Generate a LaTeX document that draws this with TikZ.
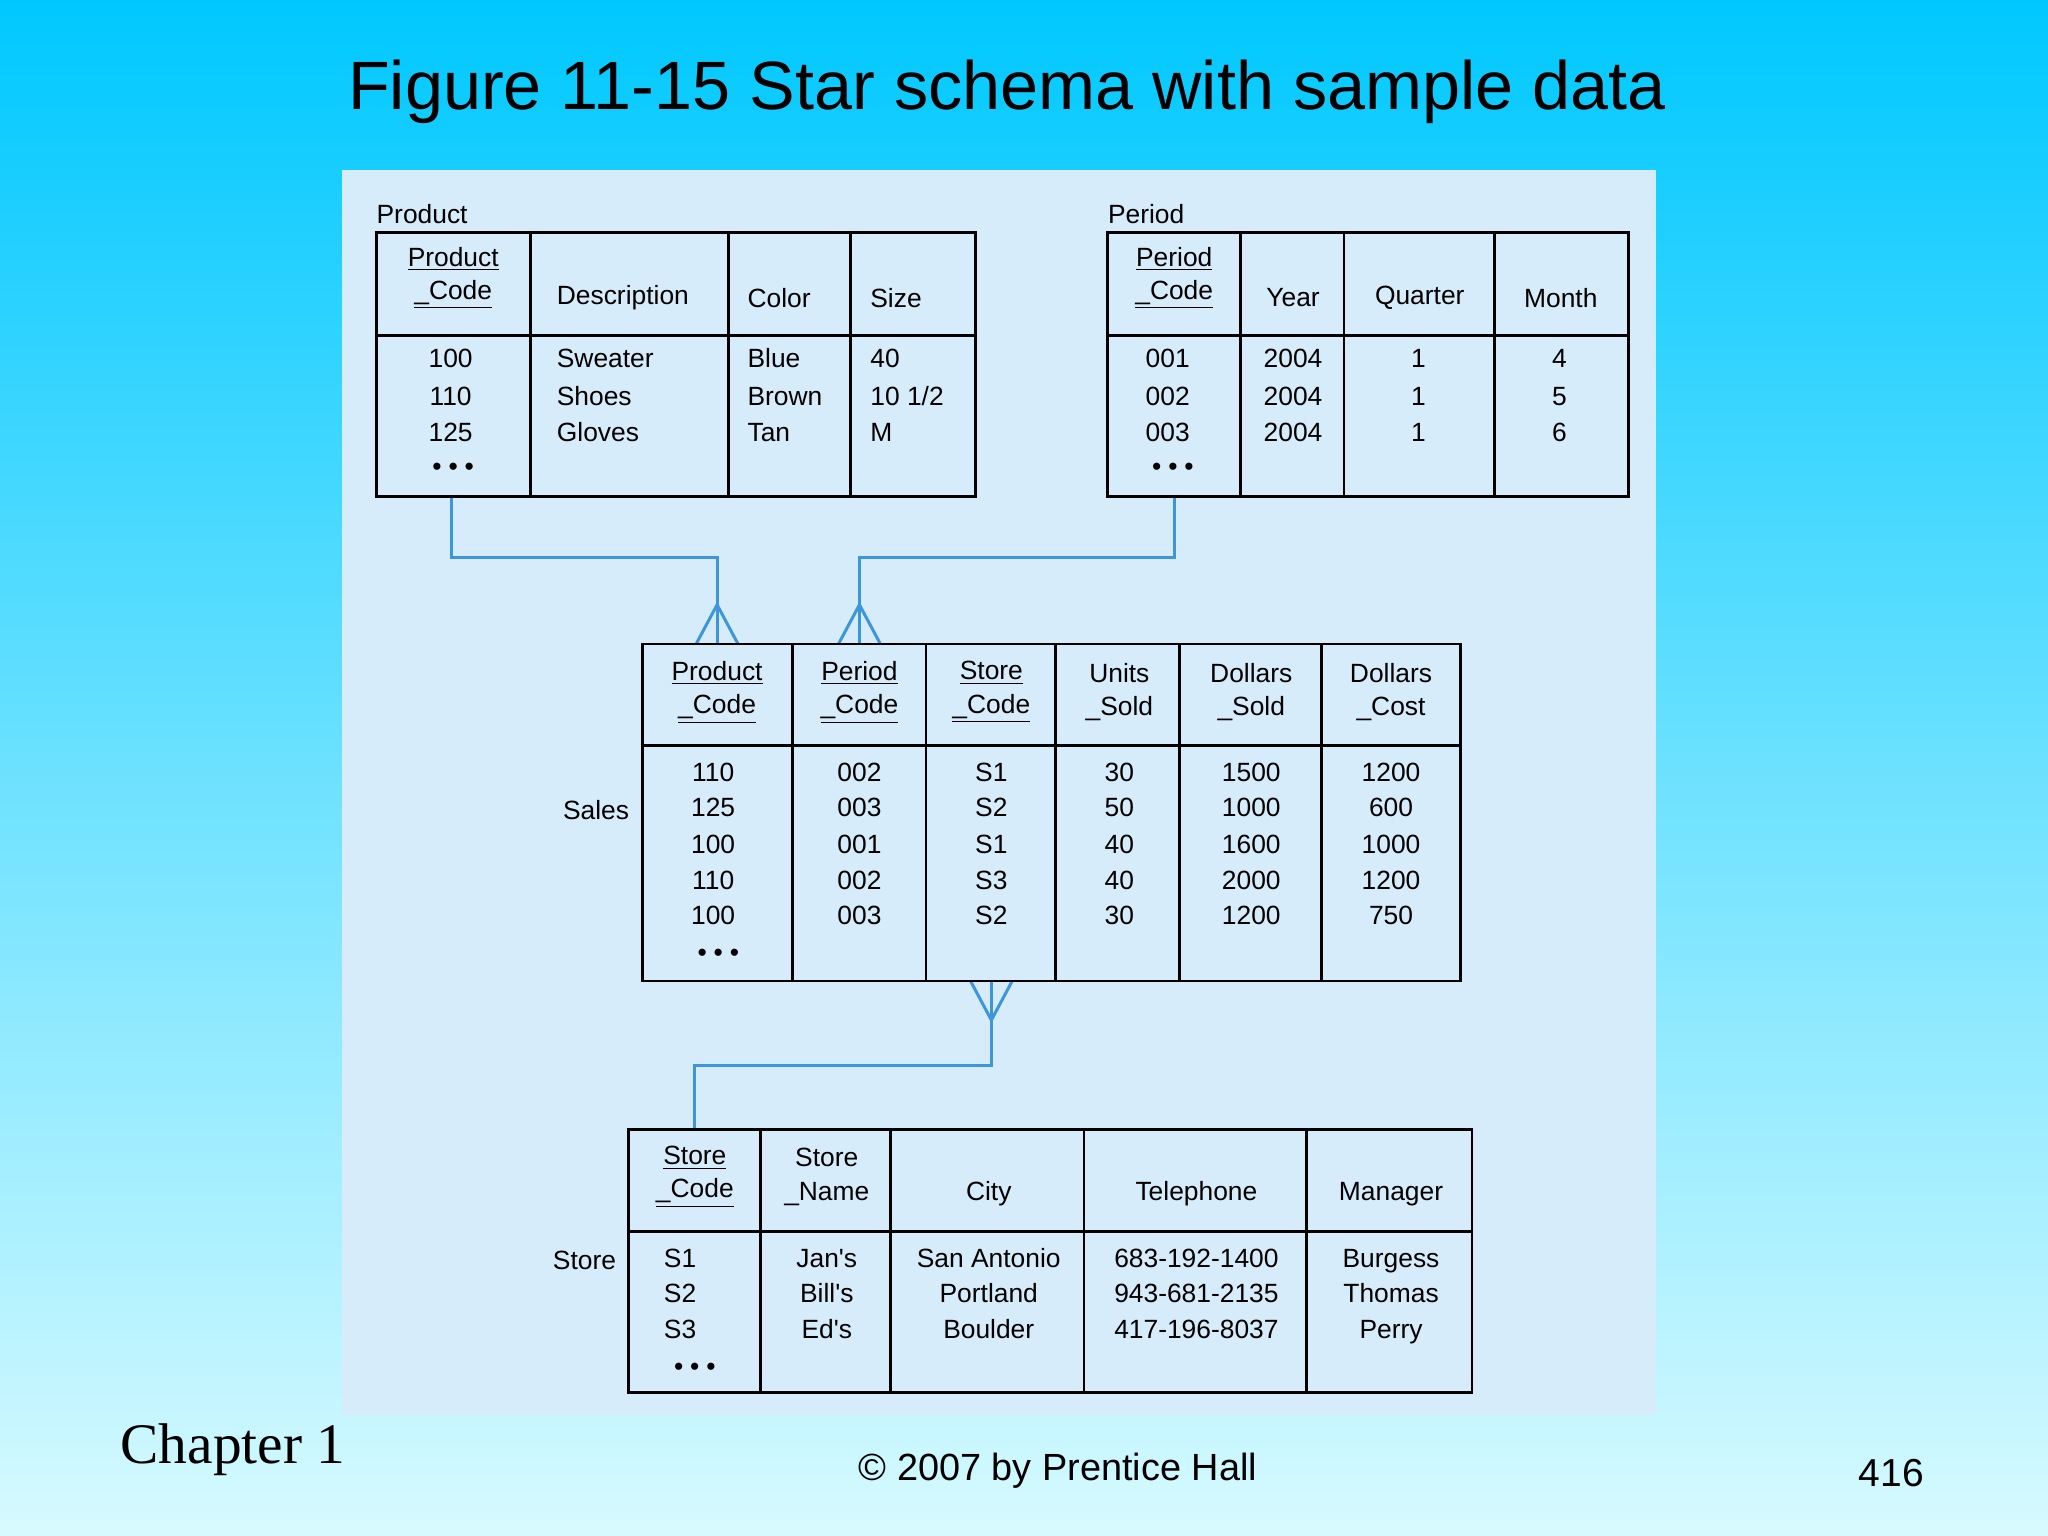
\documentclass[tikz,border=0pt]{standalone}
\usepackage{fontspec}
\setmainfont{Liberation Sans}
\newfontfamily\chapfont{Liberation Serif}
\begin{document}
\begin{tikzpicture}[x=0.02cm,y=-0.02cm,
  tb/.style={draw=black,line width=1.2pt},
  conn/.style={draw={rgb,255:red,60;green,150;blue,220},line width=1.3pt},
  tx/.style={inner sep=0pt,font=\fontsize{11.5}{14.5}\selectfont,align=center},
  dat/.style={inner sep=0pt,font=\fontsize{11.5}{14}\selectfont,text height=1.5ex,text depth=0.4ex},
  lb/.style={inner sep=0pt,font=\fontsize{11.5}{14}\selectfont}]
\definecolor{bgtop}{RGB}{0,200,255}
\definecolor{bgbot}{RGB}{215,250,255}
\definecolor{panel}{RGB}{214,236,250}
\shade[top color=bgtop,bottom color=bgbot] (0,0) rectangle (1568,1176);
\useasboundingbox (0,0) rectangle (1568,1176);
\fill[panel] (262,130) rectangle (1268,1083);
\node[inner sep=0pt,font=\fontsize{29.8}{32}\selectfont] (title) at (771,70) {Figure 11-15 Star schema with sample data};
\node[inner sep=0pt,font=\fontsize{25}{28}\selectfont\chapfont,anchor=west] (chap) at (92,1110) {Chapter 1};
\node[inner sep=0pt,font=\fontsize{16.5}{20}\selectfont] (copy) at (810,1126) {© 2007 by Prentice Hall};
\node[inner sep=0pt,font=\fontsize{17}{20}\selectfont] (pg) at (1448,1128) {416};
% connectors
\coordinate (p1) at (346,380); \coordinate (p2) at (549,493);
\coordinate (q1) at (899,380); \coordinate (q2) at (658,493);
\coordinate (s1) at (532,865); \coordinate (s2) at (759,751);
\draw[conn] (p1) |- (549,427) -- (p2);
\draw[conn] (533,493) -- (549,463) -- (565,493);
\draw[conn] (q1) |- (658,427) -- (q2);
\draw[conn] (642,493) -- (658,463) -- (674,493);
\draw[conn] (s1) |- (759,816) -- (s2);
\draw[conn] (743,751) -- (759,781) -- (775,751);
\def\bul{\textbullet\hspace{3pt}\textbullet\hspace{3pt}\textbullet}
% Product
\node[lb,anchor=west] (lprod) at (288,164) {Product};
\draw[tb] (288,178) rectangle (747,380); \draw[tb] (288,257) -- (747,257);
\foreach \x in {406,558,651} \draw[tb] (\x,178) -- (\x,380);
\node[tx] (ph1) at (347,213) {\underline{Product}\\\underline{\_Code}};
\node[tx,anchor=west] (ph2) at (426,228) {Description};
\node[tx,anchor=west] (ph3) at (572,228) {Color};
\node[tx,anchor=west] (ph4) at (666,228) {Size};
\foreach \y/\a/\b/\c/\d [count=\i] in {276/100/Sweater/Blue/40,305/110/Shoes/Brown/{10 1/2},333/125/Gloves/Tan/M}{
  \node[dat] (pa\i) at (345,\y) {\a};
  \node[dat,anchor=west] (pb\i) at (426,\y) {\b};
  \node[dat,anchor=west] (pc\i) at (572,\y) {\c};
  \node[dat,anchor=west] (pe\i) at (666,\y) {\d};}
\node[dat] (pbul) at (347,359) {\bul};
% Period
\node[lb,anchor=west] (lper) at (848,164) {Period};
\draw[tb] (848,178) rectangle (1247,380); \draw[tb] (848,257) -- (1247,257);
\foreach \x in {950,1029,1144} \draw[tb] (\x,178) -- (\x,380);
\node[tx] (qh1) at (899,213) {\underline{Period}\\\underline{\_Code}};
\node[tx] (qh2) at (990,228) {Year};
\node[tx] (qh3) at (1087,228) {Quarter};
\node[tx] (qh4) at (1195,228) {Month};
\foreach \y/\a/\d [count=\i] in {276/001/4,305/002/5,333/003/6}{
  \node[dat] (qa\i) at (894,\y) {\a};
  \node[dat] (qb\i) at (990,\y) {2004};
  \node[dat] (qc\i) at (1086,\y) {1};
  \node[dat] (qe\i) at (1194,\y) {\d};}
\node[dat] (qbul) at (898,359) {\bul};
% Sales
\node[lb,anchor=east] (lsal) at (482,620) {Sales};
\draw[tb] (492,493) rectangle (1118,751); \draw[tb] (492,571) -- (1118,571);
\foreach \x in {607,709,808,903,1012} \draw[tb] (\x,493) -- (\x,751);
\node[tx] (sh1) at (549,530) {\underline{Product}\\\underline{\_Code}};
\node[tx] (sh2) at (658,530) {\underline{Period}\\\underline{\_Code}};
\node[tx] (sh3) at (759,530) {\underline{Store}\\\underline{\_Code}};
\node[tx] (sh4) at (857,530) {Units\\\_Sold};
\node[tx] (sh5) at (958,530) {Dollars\\\_Sold};
\node[tx] (sh6) at (1065,530) {Dollars\\\_Cost};
\foreach \y/\a/\b/\c/\d/\e/\f [count=\i] in {593/110/002/S1/30/1500/1200,620/125/003/S2/50/1000/600,648/100/001/S1/40/1600/1000,676/110/002/S3/40/2000/1200,703/100/003/S2/30/1200/750}{
  \node[dat] (sa\i) at (546,\y) {\a};
  \node[dat] (sb\i) at (658,\y) {\b};
  \node[dat] (sc\i) at (759,\y) {\c};
  \node[dat] (sd\i) at (857,\y) {\d};
  \node[dat] (se\i) at (958,\y) {\e};
  \node[dat] (sf\i) at (1065,\y) {\f};}
\node[dat] (sbul) at (550,731) {\bul};
% Store
\node[lb,anchor=east] (lsto) at (472,965) {Store};
\draw[tb] (481,865) rectangle (1127,1066); \draw[tb] (481,943) -- (1127,943);
\foreach \x in {582,682,830,1000} \draw[tb] (\x,865) -- (\x,1066);
\node[tx] (th1) at (532,901) {\underline{Store}\\\underline{\_Code}};
\node[tx] (th2) at (633,901) {Store\\\_Name};
\node[tx] (th3) at (757,914) {City};
\node[tx] (th4) at (916,914) {Telephone};
\node[tx] (th5) at (1065,914) {Manager};
\foreach \y/\a/\b/\c/\d/\e [count=\i] in {965/S1/Jan\textquotesingle s/San Antonio/683-192-1400/Burgess,992/S2/Bill\textquotesingle s/Portland/943-681-2135/Thomas,1020/S3/Ed\textquotesingle s/Boulder/417-196-8037/Perry}{
  \node[dat,anchor=west] (ta\i) at (508,\y) {\a};
  \node[dat] (tb\i) at (633,\y) {\b};
  \node[dat] (tc\i) at (757,\y) {\c};
  \node[dat] (td\i) at (916,\y) {\d};
  \node[dat] (te\i) at (1065,\y) {\e};}
\node[dat] (tbul) at (532,1048) {\bul};
\end{tikzpicture}
\end{document}
